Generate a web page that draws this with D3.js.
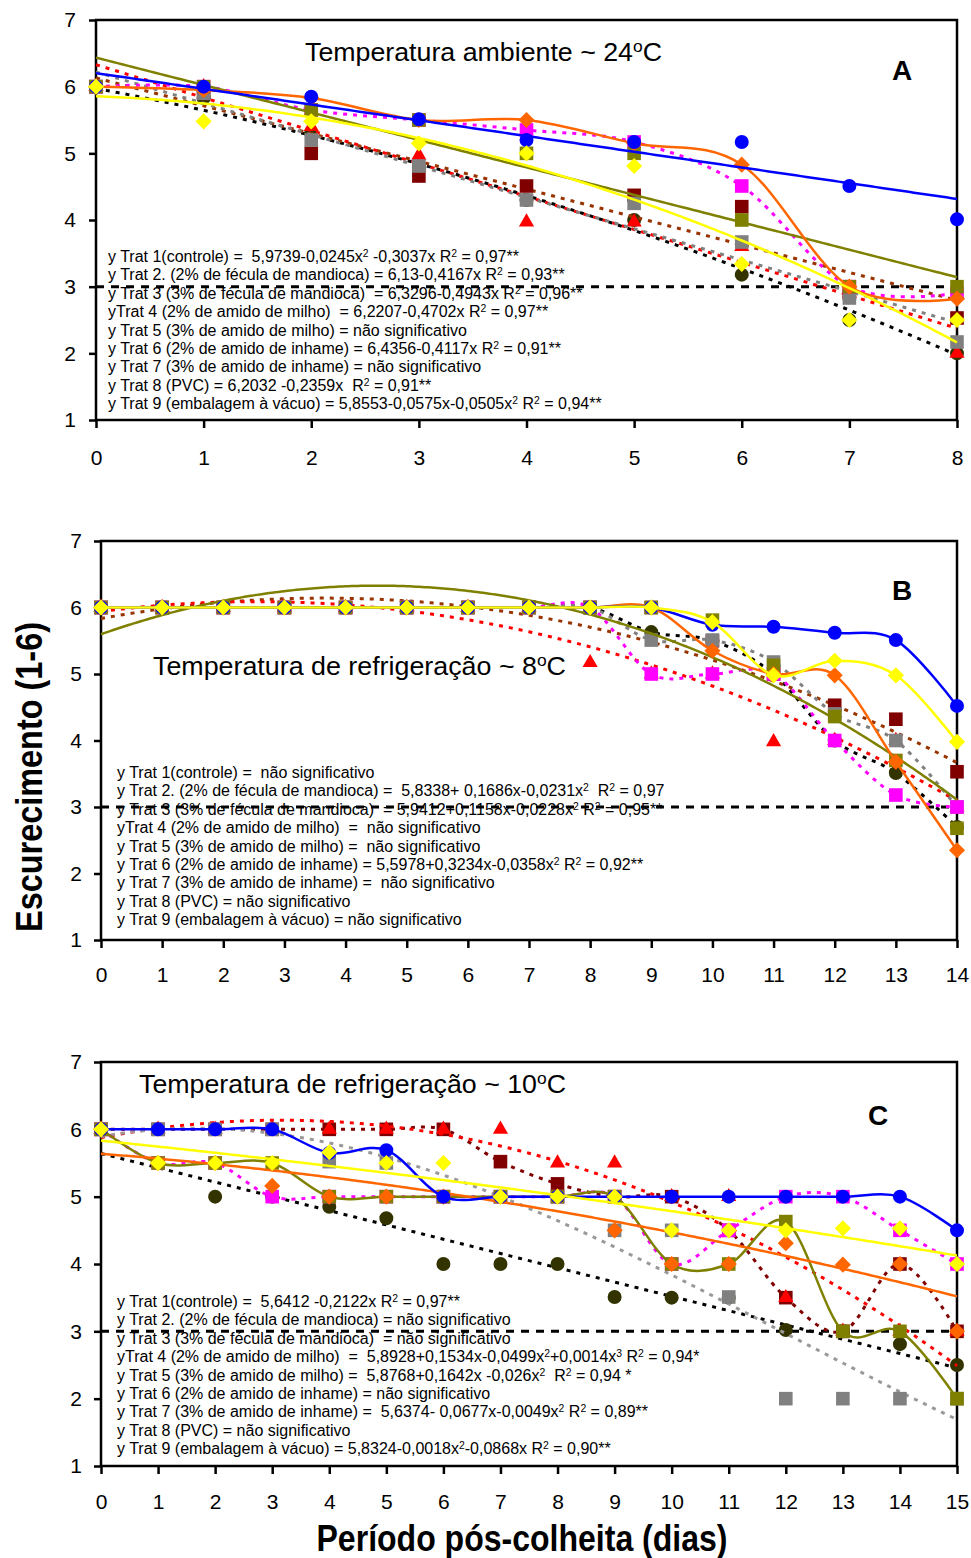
<!DOCTYPE html>
<html>
<head>
<meta charset="utf-8">
<script src="https://cdn.jsdelivr.net/npm/d3@7"></script>
<style>
body { margin: 0; background: #fff; }
text { font-family: "Liberation Sans", Arial, sans-serif; white-space: pre; }
</style>
</head>
<body>
<script>
// ---- data ----
// days after harvest for each storage condition
var daysA = [0, 1, 2, 3, 4, 5, 6, 7, 8];
var daysB = [0, 1, 2, 3, 4, 5, 6, 7, 8, 9, 10, 11, 12, 13, 14];
var daysC = [0, 1, 2, 3, 4, 5, 6, 7, 8, 9, 10, 11, 12, 13, 14, 15];
var yTicks = [1, 2, 3, 4, 5, 6, 7];

// A - temperatura ambiente (trat 1..9)
var a1 = [6, 5.83, 5.3, 4.8, 4.3, 4.0, 3.18, 2.5, 2.0];
var a2 = [6, 5.9, 5.0, 4.66, 4.51, 4.37, 4.2, 2.9, 2.53];
var a3 = [6, 6.0, 5.4, 4.97, 3.97, 3.97, 3.6, 2.9, 2.0];
var a4 = [6, 5.9, 5.2, 4.81, 4.3, 4.25, 3.67, 2.83, 2.17];
var a5 = [6, 6.0, 5.65, 5.5, 5.35, 5.17, 4.51, 3.0, 2.9];
var a6 = [6, 6.0, 5.65, 5.5, 5.0, 5.0, 4.0, 3.0, 3.0];
var a7 = [6, 5.95, 5.83, 5.5, 5.5, 5.15, 4.83, 3.0, 2.82];
var a8 = [6, 6.0, 5.85, 5.51, 5.2, 5.17, 5.17, 4.51, 4.01];
var a9 = [6, 5.48, 5.48, 5.15, 5.0, 4.81, 3.34, 2.5, 2.5];

// B - refrigeração 8ºC
var b1 = [6, 6, 6, 6, 6, 6, 6, 6, 6, 5.63, 5.5, 5.0, 4.0, 3.51, 2.7];
var b2 = [6, 6, 6, 6, 6, 6, 6, 6, 6, 6.0, 5.5, 5.0, 4.53, 4.32, 3.53];
var b3 = [6, 6, 6, 6, 6, 6, 6, 6, 5.17, 5.0, 5.0, 3.98, 4.0, 4.0, 3.0];
var b4 = [6, 6, 6, 6, 6, 6, 6, 6, 6, 5.51, 5.51, 5.18, 4.4, 4.0, 3.0];
var b5 = [6, 6, 6, 6, 6, 6, 6, 6, 6, 5.0, 5.0, 5.0, 4.0, 3.18, 3.0];
var b6 = [6, 6, 6, 6, 6, 6, 6, 6, 6, 6.0, 5.81, 5.13, 4.36, 3.7, 2.68];
var b7 = [6, 6, 6, 6, 6, 6, 6, 6, 6, 6.0, 5.35, 5.0, 4.98, 3.68, 2.35];
var b8 = [6, 6, 6, 6, 6, 6, 6, 6, 6, 6.0, 5.74, 5.71, 5.62, 5.51, 4.52];
var b9 = [6, 6, 6, 6, 6, 6, 6, 6, 6, 6.0, 5.78, 4.98, 5.2, 4.98, 3.98];

// C - refrigeração 10ºC
var c1 = [6, 5.5, 5.0, 5.0, 4.85, 4.68, 4.0, 4.0, 4.0, 3.51, 3.5, 3.5, 3.02, 3.0, 2.81, 2.5];
var c2 = [6, 6, 6, 6, 6, 6, 6, 5.52, 5.19, 5.0, 5.0, 4.5, 3.5, 3.0, 4.0, 3.0];
var c3 = [6, 6, 6, 6, 6, 6, 6, 6, 5.5, 5.5, 5.0, 5.0, 3.5, 3.0, 3.0, 3.0];
var c4 = [6, 6, 6, 6, 5.52, 5.5, 5.0, 5.0, 5.0, 4.5, 4.5, 3.51, 2.0, 2.0, 2.0, 2.0];
var c5 = [6, 5.5, 5.5, 5.0, 5.0, 5.0, 5.0, 5.0, 5.0, 5.0, 4.0, 4.5, 5.0, 5.0, 4.5, 4.0];
var c6 = [6, 5.5, 5.5, 5.5, 5.0, 5.0, 5.0, 5.0, 5.0, 5.0, 4.0, 4.0, 4.63, 3.0, 3.0, 2.0];
var c7 = [6, 5.5, 5.5, 5.16, 5.0, 5.0, 5.0, 5.0, 5.0, 4.5, 4.0, 4.0, 4.31, 3.99, 4.0, 3.0];
var c8 = [6, 6, 6, 6, 5.65, 5.69, 5.0, 5.0, 5.0, 5.0, 5.0, 5.0, 5.0, 5.0, 5.0, 4.5];
var c9 = [6, 5.5, 5.5, 5.5, 5.66, 5.5, 5.5, 5.0, 5.0, 5.0, 4.5, 4.5, 4.5, 4.53, 4.53, 4.0];

// regression coefficients printed on the chart (c0, c1*x, c2*x^2, c3*x^3); null = smoothed line
var fitA = [[5.9739, -0.3037, -0.0245], [6.13, -0.4167], [6.3296, -0.4943], [6.2207, -0.4702], null,
            [6.4356, -0.4117], null, [6.2032, -0.2359], [5.8553, -0.0575, -0.0505]];
var fitB = [null, [5.8338, 0.1686, -0.0231], [5.9412, 0.1158, -0.0228], null, null,
            [5.5978, 0.3234, -0.0358], null, null, null];
var fitC = [[5.6412, -0.2122], null, [5.8768, 0.1642, -0.026], [5.8928, 0.1534, -0.0499, 0.0014], null,
            null, [5.6374, -0.0677, -0.0049], null, [5.8324, -0.0868, -0.0018]];

var eqA = [
  "y Trat 1(controle) =  5,9739-0,0245x^2 -0,3037x R^2 = 0,97**",
  "y Trat 2. (2% de fécula de mandioca) = 6,13-0,4167x R^2 = 0,93**",
  "y Trat 3 (3% de fécula de mandioca)  = 6,3296-0,4943x R^2 = 0,96**",
  "yTrat 4 (2% de amido de milho)  = 6,2207-0,4702x R^2 = 0,97**",
  "y Trat 5 (3% de amido de milho) = não significativo",
  "y Trat 6 (2% de amido de inhame) = 6,4356-0,4117x R^2 = 0,91**",
  "y Trat 7 (3% de amido de inhame) = não significativo",
  "y Trat 8 (PVC) = 6,2032 -0,2359x  R^2 = 0,91**",
  "y Trat 9 (embalagem à vácuo) = 5,8553-0,0575x-0,0505x^2 R^2 = 0,94**"
];
var eqB = [
  "y Trat 1(controle) =  não significativo",
  "y Trat 2. (2% de fécula de mandioca) =  5,8338+ 0,1686x-0,0231x^2  R^2 = 0,97",
  "y Trat 3 (3% de fécula de mandioca)  = 5,9412+0,1158x-0,0228x^2 R^2 = 0,95**",
  "yTrat 4 (2% de amido de milho)  =  não significativo",
  "y Trat 5 (3% de amido de milho) =  não significativo",
  "y Trat 6 (2% de amido de inhame) = 5,5978+0,3234x-0,0358x^2 R^2 = 0,92**",
  "y Trat 7 (3% de amido de inhame) =  não significativo",
  "y Trat 8 (PVC) = não significativo",
  "y Trat 9 (embalagem à vácuo) = não significativo"
];
var eqC = [
  "y Trat 1(controle) =  5,6412 -0,2122x R^2 = 0,97**",
  "y Trat 2. (2% de fécula de mandioca) = não significativo",
  "y Trat 3 (3% de fécula de mandioca)  = não significativo",
  "yTrat 4 (2% de amido de milho)  =  5,8928+0,1534x-0,0499x^2+0,0014x^3 R^2 = 0,94*",
  "y Trat 5 (3% de amido de milho) =  5,8768+0,1642x -0,026x^2  R^2 = 0,94 *",
  "y Trat 6 (2% de amido de inhame) = não significativo",
  "y Trat 7 (3% de amido de inhame) =  5,6374- 0,0677x-0,0049x^2 R^2 = 0,89**",
  "y Trat 8 (PVC) = não significativo",
  "y Trat 9 (embalagem à vácuo) = 5,8324-0,0018x^2-0,0868x R^2 = 0,90**"
];

// ---- styles ----
var markColor = ["#333300", "#800000", "#FF0000", "#808080", "#FF00FF", "#808000", "#FF6600", "#0000FF", "#FFFF00"];
var markShape = ["circle", "square", "triangle", "square", "square", "square", "diamond", "circle", "diamond"];
var lineColorA = ["#000000", "#993300", "#FF0000", "#808080", "#FF00FF", "#808000", "#FF6600", "#0000FF", "#FFFF00"];
var lineColorB = ["#000000", "#993300", "#FF0000", "#808080", "#FF00FF", "#808000", "#FF6600", "#0000FF", "#FFFF00"];
var lineColorC = ["#000000", "#800000", "#FF0000", "#999999", "#FF00FF", "#808000", "#FF6600", "#0000FF", "#FFFF00"];
var dotted = [1, 1, 1, 1, 1, 0, 0, 0, 0];

var svg = d3.select("body").append("svg").attr("width", 971).attr("height", 1558);

var symbols = {
  circle: d3.symbol().type(d3.symbolCircle).size(154),
  square: d3.symbol().type(d3.symbolSquare).size(185),
  triangle: d3.symbol().type(d3.symbolTriangle).size(100),
  diamond: d3.symbol().type(d3.symbolSquare).size(130)
};

// "^2" -> superscript
function richText(sel, str, size) {
  var parts = str.split(/\^(\w)/);
  parts.forEach(function(p, i) {
    if (i % 2 === 0) { if (p) sel.append("tspan").text(p); }
    else sel.append("tspan").attr("baseline-shift", "super").attr("font-size", size * 0.65).text(p);
  });
}

function styleAxis(a) {
  a.select(".domain").remove();
  a.selectAll("line").attr("stroke-width", 2.5);
  a.selectAll("text").attr("font-size", 21).attr("font-family", "Liberation Sans, Arial, sans-serif");
}

function panel(opt) {
  var x = d3.scaleLinear().domain([0, opt.days[opt.days.length - 1]]).range([opt.left, opt.right]);
  var y = d3.scaleLinear().domain([1, 7]).range([opt.bottom, opt.top]);
  var g = svg.append("g");

  g.append("g")
      .attr("transform", "translate(0," + opt.bottom + ")")
      .call(d3.axisBottom(x).tickValues(opt.days).tickSize(8).tickSizeOuter(0).tickPadding(opt.xpad))
      .call(styleAxis);

  g.append("g")
      .attr("transform", "translate(" + opt.left + ",0)")
      .call(d3.axisLeft(y).tickValues(yTicks).tickFormat(d3.format("d")).tickSize(7).tickSizeOuter(0).tickPadding(opt.ypad))
      .call(styleAxis);

  g.append("rect")
      .attr("x", opt.left).attr("y", opt.top)
      .attr("width", opt.right - opt.left).attr("height", opt.bottom - opt.top)
      .attr("fill", "none").attr("stroke", "#000").attr("stroke-width", 2.5);

  // reference line at score 3
  g.append("line")
      .attr("x1", x(0)).attr("x2", opt.right)
      .attr("y1", y(3)).attr("y2", y(3))
      .attr("stroke", "#000").attr("stroke-width", 3).attr("stroke-dasharray", "8,7");

  // equations
  var eq = g.append("g").attr("font-size", 16);
  opt.eq.forEach(function(s, i) {
    var t = eq.append("text").attr("x", opt.eqX).attr("y", opt.eqY + i * 18.4);
    richText(t, s, 16);
  });

  var tt = g.append("text").attr("x", opt.titleX).attr("y", opt.titleY)
      .attr("font-size", 25)
      .attr("textLength", opt.titleW).attr("lengthAdjust", "spacingAndGlyphs");
  richText(tt, opt.title, 25);

  g.append("text").attr("x", opt.letterX).attr("y", opt.letterY)
      .attr("text-anchor", "middle").attr("font-size", 28).attr("font-weight", "bold")
      .text(opt.letter);

  var smooth = d3.line().curve(d3.curveCardinal.tension(0))
      .x(function(d) { return x(d[0]); }).y(function(d) { return y(d[1]); });
  var straight = d3.line()
      .x(function(d) { return x(d[0]); }).y(function(d) { return y(d[1]); });

  var xmax = opt.days[opt.days.length - 1];
  opt.series.forEach(function(vals, s) {
    var fit = opt.fit[s], path;
    if (fit) {
      var pts = d3.range(0, xmax + 0.001, 0.05).map(function(t) {
        var v = 0;
        fit.forEach(function(c, k) { v += c * Math.pow(t, k); });
        return [t, v];
      });
      path = straight(pts);
    } else {
      path = smooth(opt.days.map(function(d, i) { return [d, vals[i]]; }));
    }
    g.append("path")
        .attr("d", path)
        .attr("fill", "none")
        .attr("stroke", opt.lineColor[s])
        .attr("stroke-width", dotted[s] ? 3 : 2.5)
        .attr("stroke-dasharray", dotted[s] ? "4,6" : null);

    g.selectAll(null)
      .data(vals)
      .enter().append("path")
        .attr("d", symbols[markShape[s]])
        .attr("transform", function(d, i) {
          return "translate(" + x(opt.days[i]) + "," + y(d) + ")" + (markShape[s] === "diamond" ? " rotate(45)" : "");
        })
        .attr("fill", markColor[s]);
  });
}

panel({
  days: daysA, left: 96, right: 957, top: 20, bottom: 420, xpad: 22, ypad: 13,
  series: [a1, a2, a3, a4, a5, a6, a7, a8, a9], fit: fitA, lineColor: lineColorA,
  eq: eqA, eqX: 108, eqY: 262,
  title: "Temperatura ambiente ~ 24^oC", titleX: 305, titleY: 61, titleW: 357,
  letter: "A", letterX: 902, letterY: 80
});

panel({
  days: daysB, left: 101, right: 957, top: 541, bottom: 940, xpad: 19, ypad: 12,
  series: [b1, b2, b3, b4, b5, b6, b7, b8, b9], fit: fitB, lineColor: lineColorB,
  eq: eqB, eqX: 117, eqY: 778,
  title: "Temperatura de refrigeração ~ 8^oC", titleX: 153, titleY: 675, titleW: 413,
  letter: "B", letterX: 902, letterY: 600
});

panel({
  days: daysC, left: 101, right: 957, top: 1062, bottom: 1466, xpad: 20, ypad: 12,
  series: [c1, c2, c3, c4, c5, c6, c7, c8, c9], fit: fitC, lineColor: lineColorC,
  eq: eqC, eqX: 117, eqY: 1307,
  title: "Temperatura de refrigeração ~ 10^oC", titleX: 139, titleY: 1093, titleW: 427,
  letter: "C", letterX: 878, letterY: 1125
});

// axis titles
svg.append("text")
    .attr("transform", "translate(42,777) rotate(-90)")
    .attr("text-anchor", "middle").attr("font-size", 37).attr("font-weight", "bold")
    .attr("textLength", 310).attr("lengthAdjust", "spacingAndGlyphs")
    .text("Escurecimento (1-6)");

svg.append("text")
    .attr("x", 522).attr("y", 1551)
    .attr("text-anchor", "middle").attr("font-size", 36).attr("font-weight", "bold")
    .attr("textLength", 411).attr("lengthAdjust", "spacingAndGlyphs")
    .text("Período pós-colheita (dias)");
</script>
</body>
</html>
